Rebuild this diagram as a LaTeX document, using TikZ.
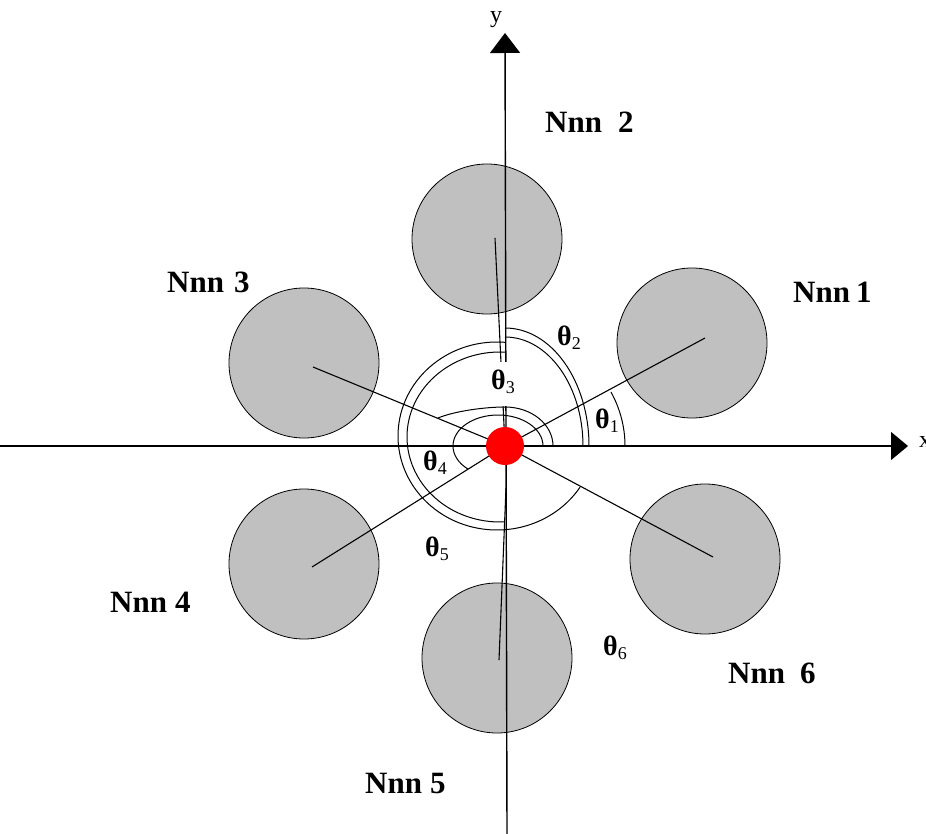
\documentclass[tikz,border=0pt]{standalone}
\usepackage{fontspec}
\setmainfont{Liberation Serif}
\usetikzlibrary{arrows.meta}
\definecolor{atomgray}{RGB}{192,192,192}
\begin{document}
\begin{tikzpicture}[x=1pt,y=1pt,
  atom/.style={circle, draw=black, line width=0.8pt, fill=atomgray, inner sep=0pt, minimum size=150pt},
  axisline/.style={line width=1.4pt},
  bond/.style={line width=1.1pt},
  arcline/.style={line width=1pt},
  reddot/.style={circle, fill=red, inner sep=0pt, minimum size=38pt},
  lbl/.style={font=\fontsize{31}{31}\selectfont\bfseries, inner sep=0pt, anchor=base west},
  th/.style={font=\fontsize{28}{28}\selectfont\bfseries, inner sep=0pt, anchor=base west},
  axlbl/.style={font=\fontsize{24}{24}\selectfont, inner sep=0pt, anchor=base west}
]
\useasboundingbox (0,0) rectangle (926,-834);
\fill[white] (0,0) rectangle (926,-834);
\newcommand{\sub}[1]{{\fontsize{18}{18}\selectfont\mdseries\raisebox{-4.5pt}{#1}}}

% neighbour atoms
\node[atom] (n1) at (692,-343) {};
\node[atom] (n2) at (487,-239) {};
\node[atom] (n3) at (304,-363) {};
\node[atom] (n4) at (304,-564) {};
\node[atom] (n5) at (497,-658) {};
\node[atom] (n6) at (705,-559) {};

% reference points
\coordinate (O) at (505,-446);
\coordinate (e1) at (705,-338);
\coordinate (e2) at (495,-238);
\coordinate (e3) at (313,-367);
\coordinate (e4) at (312,-567);
\coordinate (e5) at (499,-660);
\coordinate (s5) at (506,-488);
\coordinate (e6) at (713,-557);
\coordinate (ca) at (497,-436);
\coordinate (cb) at (500,-437);
\coordinate (cc) at (498,-446);
\coordinate (xs) at (0,-446);
\coordinate (xe) at (908,-446);
\coordinate (ys) at (507,-834);
\coordinate (ye) at (505,-33);

% axes
\draw[axisline, -{Triangle[length=17pt,width=28pt]}] (xs) -- (xe);
\draw[axisline, -{Triangle[length=20pt,width=30pt]}] (ys) -- (ye);

% bonds
\draw[bond] (O) -- (e1);
\draw[bond] (O) -- (e2);
\draw[bond] (O) -- (e3);
\draw[bond] (O) -- (e4);
\draw[bond] (s5) -- (e5);
\draw[bond] (O) -- (e6);

% angle arcs
\draw[arcline] ([shift={(0:120 and 115)}]O) arc[start angle=0,end angle=28,x radius=120,y radius=115];
\draw[arcline] ([shift={(0:78 and 109)}]O) arc[start angle=0,end angle=90,x radius=78,y radius=109];
\draw[arcline] ([shift={(0:84 and 118)}]O) arc[start angle=0,end angle=90,x radius=84,y radius=118];
\draw[arcline] ([shift={(87:93 and 85)}]cb) arc[start angle=87,end angle=273,x radius=93,y radius=85];
\draw[arcline] ([shift={(85:99 and 94)}]ca) arc[start angle=85,end angle=327,x radius=99,y radius=94];
\draw[arcline] ([shift={(0:48 and 39)}]O) arc[start angle=0,end angle=90,x radius=48,y radius=39]
   .. controls (485,-407) and (455,-411) .. (438,-418);
\draw[arcline] ([shift={(0:45 and 31)}]cc) arc[start angle=0,end angle=228,x radius=45,y radius=31];

% central atom
\node[reddot] (c0) at (O) {};

% angle labels
\fill[white] (493,-362) rectangle (519,-406);
\node[th] (t1) at (595,-428) {θ\sub{1}};
\node[th] (t2) at (557,-345) {θ\sub{2}};
\node[th] (t3) at (491,-389) {θ\sub{3}};
\node[th] (t4) at (423,-470) {θ\sub{4}};
\node[th] (t5) at (425,-556) {θ\sub{5}};
\node[th] (t6) at (603,-655) {θ\sub{6}};

% atom labels
\node[lbl] (l1) at (793,-302) {Nnn\hspace{6pt}1};
\node[lbl] (l2) at (545,-133) {Nnn\hspace{16pt}2};
\node[lbl] (l3) at (167,-293) {Nnn\hspace{10pt}3};
\node[lbl] (l4) at (110,-612) {Nnn\hspace{8pt}4};
\node[lbl] (l5) at (365,-793) {Nnn\hspace{8pt}5};
\node[lbl] (l6) at (728,-683) {Nnn\hspace{15pt}6};

% axis labels
\node[axlbl] (ylab) at (490,-23) {y};
\node[axlbl] (xlab) at (919,-447) {x};
\end{tikzpicture}
\end{document}
